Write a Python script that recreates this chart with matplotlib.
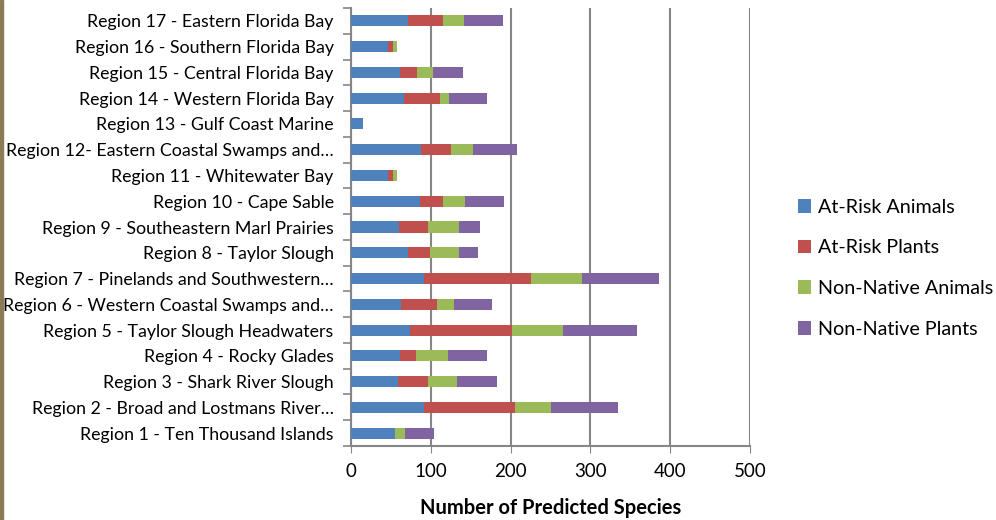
"""Predicted species per region, stacked horizontal bars."""

import matplotlib

matplotlib.use("Agg")
import matplotlib.pyplot as plt  # noqa: E402
import numpy as np  # noqa: E402
from matplotlib.patches import Rectangle  # noqa: E402

REGIONS = [
    "Region 1 - Ten Thousand Islands",
    "Region 2 - Broad and Lostmans River\u2026",
    "Region 3 - Shark River Slough",
    "Region 4 - Rocky Glades",
    "Region 5 - Taylor Slough Headwaters",
    "Region 6 - Western Coastal Swamps and\u2026",
    "Region 7 - Pinelands and Southwestern\u2026",
    "Region 8 - Taylor Slough",
    "Region 9 - Southeastern Marl Prairies",
    "Region 10 - Cape Sable",
    "Region 11 - Whitewater Bay",
    "Region 12- Eastern Coastal Swamps and\u2026",
    "Region 13 - Gulf Coast Marine",
    "Region 14 - Western Florida Bay",
    "Region 15 - Central Florida Bay",
    "Region 16 - Southern Florida Bay",
    "Region 17 - Eastern Florida Bay",
]

at_risk_animals = [55, 92, 59, 61, 74, 63, 91, 72, 60, 86, 46, 88, 15, 67, 62, 46, 72]
at_risk_plants = [0, 113, 37, 21, 128, 45, 135, 27, 36, 29, 7, 37, 0, 44, 21, 7, 43]
non_native_animals = [13, 46, 37, 39, 64, 21, 63, 36, 39, 28, 5, 28, 0, 12, 20, 5, 26]
non_native_plants = [36, 84, 50, 49, 92, 48, 97, 24, 27, 49, 0, 55, 0, 48, 37, 0, 49]

SERIES = ["At-Risk Animals", "At-Risk Plants", "Non-Native Animals", "Non-Native Plants"]
COLORS = ["#4F81BD", "#C0504D", "#9BBB59", "#8064A2"]
X_TICKS = [0, 100, 200, 300, 400, 500]

plt.rcParams["font.family"] = ["Lato", "DejaVu Sans"]

fig = plt.figure(figsize=(9.96, 5.2), dpi=100)
ax = fig.add_axes([0.3524, 0.1423, 0.4006, 0.8423])

y = np.arange(len(REGIONS))
left = np.zeros(len(REGIONS))
for name, vals, col in zip(
    SERIES,
    [at_risk_animals, at_risk_plants, non_native_animals, non_native_plants],
    COLORS,
):
    ax.barh(y, vals, left=left, height=0.43, color=col, label=name, zorder=3)
    left += np.array(vals)

ax.set_xlim(0, 500)
ax.set_ylim(-0.5, len(REGIONS) - 0.5)
ax.set_xticks(X_TICKS)
ax.tick_params(axis="x", labelsize=13.5, length=5, color="#868686", pad=7)
ax.grid(axis="x", color="#868686", linewidth=1.5, zorder=0)

# Excel style: tick marks between categories, labels at centres
ax.set_yticks(np.arange(len(REGIONS) + 1) - 0.5)
ax.set_yticklabels([])
ax.set_yticks(y, minor=True)
ax.set_yticklabels(REGIONS, minor=True, fontsize=12.8)
ax.tick_params(axis="y", which="major", length=6, color="#868686", width=1.2)
ax.tick_params(axis="y", which="minor", length=0, pad=12.5)

for side in ["top", "right"]:
    ax.spines[side].set_visible(False)
for side in ["left", "bottom"]:
    ax.spines[side].set_color("#868686")
    ax.spines[side].set_linewidth(1.5)

ax.set_xlabel("Number of Predicted Species", fontsize=14.5, fontweight="bold", labelpad=13)

handles, labels = ax.get_legend_handles_labels()
fig.legend(
    handles, labels,
    loc="center left", bbox_to_anchor=(0.783, 0.484),
    frameon=False, fontsize=14.2, handlelength=0.7, handleheight=0.7,
    handletextpad=0.35, labelspacing=1.2,
)

# brown strip on the left edge of the original image
fig.patches.append(Rectangle((0, 0), 0.003, 1, transform=fig.transFigure,
                             color="#8B7A55", zorder=0))

fig.savefig("out.png", dpi=100)
